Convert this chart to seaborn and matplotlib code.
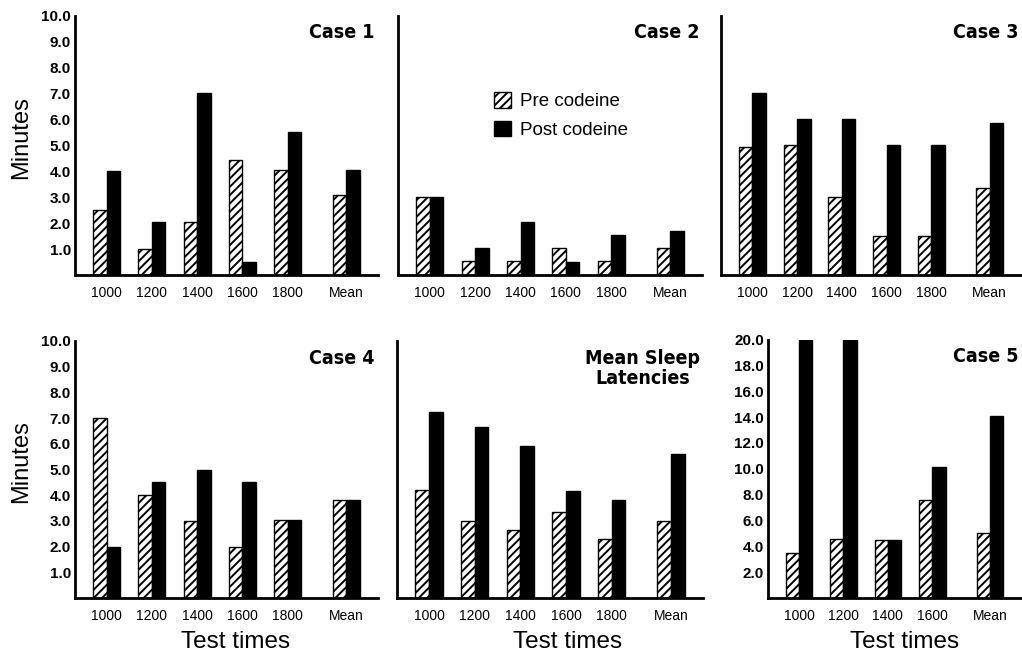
import matplotlib
matplotlib.use("Agg")
import matplotlib.pyplot as plt
from matplotlib import font_manager
from matplotlib.patches import Patch
import numpy as np
import pandas as pd
import seaborn as sns

# sleep latency in minutes
times = ["1000", "1200", "1400", "1600", "1800", "Mean"]
times_case5 = ["1000", "1200", "1400", "1600", "Mean"]

case1_pre = [2.5, 1.0, 2.05, 4.45, 4.05, 3.1]
case1_post = [4.0, 2.05, 7.0, 0.5, 5.5, 4.05]

case2_pre = [3.0, 0.55, 0.55, 1.05, 0.55, 1.05]
case2_post = [3.0, 1.05, 2.05, 0.5, 1.55, 1.7]

case3_pre = [4.95, 5.0, 3.0, 1.5, 1.5, 3.35]
case3_post = [7.0, 6.0, 6.0, 5.0, 5.0, 5.85]

case4_pre = [7.0, 4.0, 3.0, 2.0, 3.05, 3.8]
case4_post = [2.0, 4.5, 5.0, 4.5, 3.05, 3.8]

mean_pre = [4.2, 3.0, 2.65, 3.35, 2.3, 3.0]
mean_post = [7.25, 6.65, 5.9, 4.15, 3.82, 5.6]

case5_pre = [3.5, 4.55, 4.5, 7.6, 5.05]
case5_post = [20.0, 20.0, 4.5, 10.1, 14.1]

conditions = ["Pre codeine", "Post codeine"]

W, H = 1022, 658

sns.set_style("white")
plt.rcParams["font.family"] = ["Liberation Sans", "DejaVu Sans"]
plt.rcParams["hatch.linewidth"] = 1.4
plt.rcParams["hatch.color"] = "black"
for key in ["text.color", "axes.labelcolor", "xtick.color", "ytick.color"]:
    plt.rcParams[key] = "black"


def pick_title_font():
    """Look for a bold narrow/condensed face for the panel titles."""
    best = None
    for f in font_manager.fontManager.ttflist:
        narrow = ("Narrow" in f.name or "Condensed" in f.name
                  or "condensed" in str(f.stretch) or "Condensed" in f.fname)
        bold = f.weight in ("bold", 700, 800, 900, "heavy", "black") or \
            (isinstance(f.weight, int) and f.weight >= 700)
        if narrow and bold and "italic" not in f.style and "Italic" not in f.fname:
            score = 0 if "Liberation" in f.name else 1
            if best is None or score < best[0]:
                best = (score, f.fname)
    if best is not None:
        return font_manager.FontProperties(fname=best[1], size=14)
    return font_manager.FontProperties(family="Liberation Sans",
                                       weight="bold", size=13)


title_font = pick_title_font()

fig = plt.figure(figsize=(W / 100, H / 100), dpi=100)


def box(left, top, right, bottom):
    """Pixel box -> figure fraction rect."""
    return [left / W, 1 - bottom / H, (right - left) / W, (bottom - top) / H]


def draw_panel(rect, cats, pre, post, title, ymax, ystep, show_labels):
    ax = fig.add_axes(rect)
    pos = np.arange(len(cats), dtype=float)
    pos[-1] += 0.3  # extra gap before the Mean group

    df = pd.DataFrame({
        "pos": np.concatenate([pos, pos]),
        "value": pre + post,
        "condition": [conditions[0]] * len(cats) + [conditions[1]] * len(cats),
    })
    sns.barplot(data=df, x="pos", y="value", hue="condition",
                hue_order=conditions, native_scale=True, width=0.6, gap=0,
                palette={conditions[0]: "white", conditions[1]: "black"},
                saturation=1, edgecolor="black", linewidth=1.0,
                legend=False, ax=ax)
    for bar in ax.containers[0]:
        bar.set_hatch("////")

    ax.set_xlim(-0.7, pos[-1] + 0.7)
    ax.set_ylim(0, ymax)
    ax.set_xticks(pos, cats)
    ax.set_xlabel("")
    ax.set_ylabel("")

    yt = np.arange(ystep, ymax + 0.01, ystep)
    ax.set_yticks(yt)
    if show_labels:
        ax.set_yticklabels([f"{v:.1f}" for v in yt], fontsize=11,
                           fontweight="bold")
    else:
        ax.set_yticklabels([])

    for side in ["top", "right"]:
        ax.spines[side].set_visible(False)
    for side in ["left", "bottom"]:
        ax.spines[side].set_linewidth(2.0)
        ax.spines[side].set_color("black")
    ax.tick_params(axis="y", direction="in", length=4, width=1.4, pad=3,
                   colors="black")
    ax.tick_params(axis="x", length=0, pad=8, labelsize=10)

    ax.text(0.99, 0.97, title, transform=ax.transAxes, ha="right", va="top",
            fontproperties=title_font, multialignment="center",
            linespacing=1.1)
    return ax


ax1 = draw_panel(box(75, 15.5, 378, 275), times, case1_pre, case1_post,
                 "Case 1", 10, 1, True)
ax2 = draw_panel(box(398, 15.5, 702, 275), times, case2_pre, case2_post,
                 "Case 2", 10, 1, False)
ax3 = draw_panel(box(721, 15.5, 1021, 275), times, case3_pre, case3_post,
                 "Case 3", 10, 1, False)
ax4 = draw_panel(box(75, 341, 378, 598), times, case4_pre, case4_post,
                 "Case 4", 10, 1, True)
ax5 = draw_panel(box(397, 341, 703, 598), times, mean_pre, mean_post,
                 "Mean Sleep\nLatencies", 10, 1, False)
ax6 = draw_panel(box(768, 339.5, 1021, 598), times_case5, case5_pre,
                 case5_post, "Case 5", 20, 2, True)

handles = [Patch(facecolor="white", edgecolor="black", hatch="////"),
           Patch(facecolor="black", edgecolor="black")]
ax2.legend(handles, conditions, loc="upper left", frameon=False,
           bbox_to_anchor=(494 / W, 1 - 92 / H), bbox_transform=fig.transFigure,
           fontsize=13.5, handlelength=0.9, handleheight=0.9, handletextpad=0.5,
           labelspacing=0.55, borderpad=0, borderaxespad=0)

fig.text(21 / W, 1 - 138 / H, "Minutes", rotation=90, ha="center",
         va="center", fontsize=17)
fig.text(21 / W, 1 - 462 / H, "Minutes", rotation=90, ha="center",
         va="center", fontsize=17)
for xc in [236, 568, 905]:
    fig.text(xc / W, 1 - 642 / H, "Test times", ha="center", va="center",
             fontsize=17.5)

fig.savefig("out.png", dpi=100)
